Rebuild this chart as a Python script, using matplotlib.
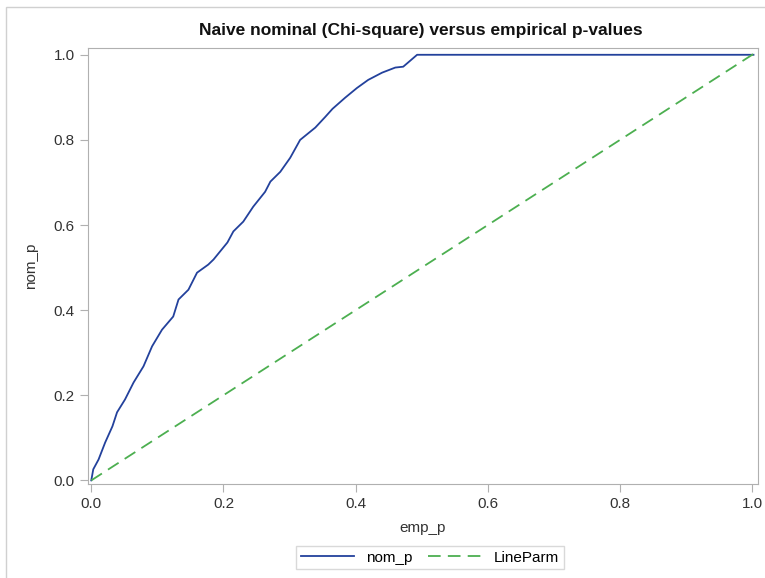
import matplotlib
matplotlib.use("Agg")
import matplotlib.pyplot as plt
from matplotlib.patches import Rectangle

plt.rcParams['font.family'] = ['Liberation Sans', 'DejaVu Sans']

# values (empirical vs nominal p-values)
emp_p = [0.0, 0.003, 0.011, 0.021, 0.032, 0.039, 0.051, 0.064, 0.079, 0.092,
         0.107, 0.124, 0.132, 0.147, 0.160, 0.177, 0.185, 0.206, 0.215, 0.230,
         0.245, 0.263, 0.271, 0.286, 0.301, 0.316, 0.339, 0.354, 0.365, 0.384,
         0.402, 0.419, 0.440, 0.460, 0.472, 0.493, 1.002]
nom_p = [0.0, 0.026, 0.049, 0.089, 0.127, 0.160, 0.190, 0.230, 0.268, 0.315,
         0.354, 0.385, 0.425, 0.448, 0.488, 0.507, 0.519, 0.559, 0.585, 0.608,
         0.643, 0.678, 0.702, 0.725, 0.758, 0.800, 0.829, 0.854, 0.873, 0.899,
         0.922, 0.941, 0.958, 0.970, 0.972, 1.0, 1.0]
ref_x = [0.0, 1.01]
ref_y = [0.0, 1.01]

fig = plt.figure(figsize=(7.65, 5.78), dpi=100)
fig.patches.append(Rectangle((6 / 765, -0.01), 1.0, 1 - 7 / 578 + 0.01,
                             transform=fig.transFigure, fill=False,
                             edgecolor='#d0d0d0', linewidth=1))

ax = fig.add_axes([0.115, 0.163, 0.876, 0.754])
ax.plot(emp_p, nom_p, '-', color='#23419c', linewidth=1.3, label='nom_p')
ax.plot(ref_x, ref_y, '--', color='#4caf50', linewidth=1.3,
        dashes=(7, 4), label='LineParm')

ax.set_xlim(-0.005, 1.009)
ax.set_ylim(-0.008, 1.016)
ax.set_xticks([0.0, 0.2, 0.4, 0.6, 0.8, 1.0])
ax.set_yticks([0.0, 0.2, 0.4, 0.6, 0.8, 1.0])
ax.xaxis.set_major_formatter(matplotlib.ticker.FormatStrFormatter('%.1f'))
ax.yaxis.set_major_formatter(matplotlib.ticker.FormatStrFormatter('%.1f'))
for s in ax.spines.values():
    s.set_color('#b0b0b0')
ax.tick_params(colors='#b0b0b0', labelcolor='#333333', labelsize=11,
               length=6, direction='out')

ax.set_xlabel('emp_p', fontsize=11, color='#333333', labelpad=7)
ax.set_ylabel('nom_p', fontsize=11, color='#333333', labelpad=11)
fig.text(0.55, 0.948, 'Naive nominal (Chi-square) versus empirical p-values',
         ha='center', va='center', fontsize=12.5, fontweight='bold', color='#111111')

fig.legend(loc='center', bbox_to_anchor=(0.562, 0.035), ncol=2, frameon=True,
           fancybox=False, edgecolor='#d0d0d0', fontsize=11, handlelength=3.5,
           columnspacing=1.0, borderpad=0.3)

fig.savefig('out.png', dpi=100)
